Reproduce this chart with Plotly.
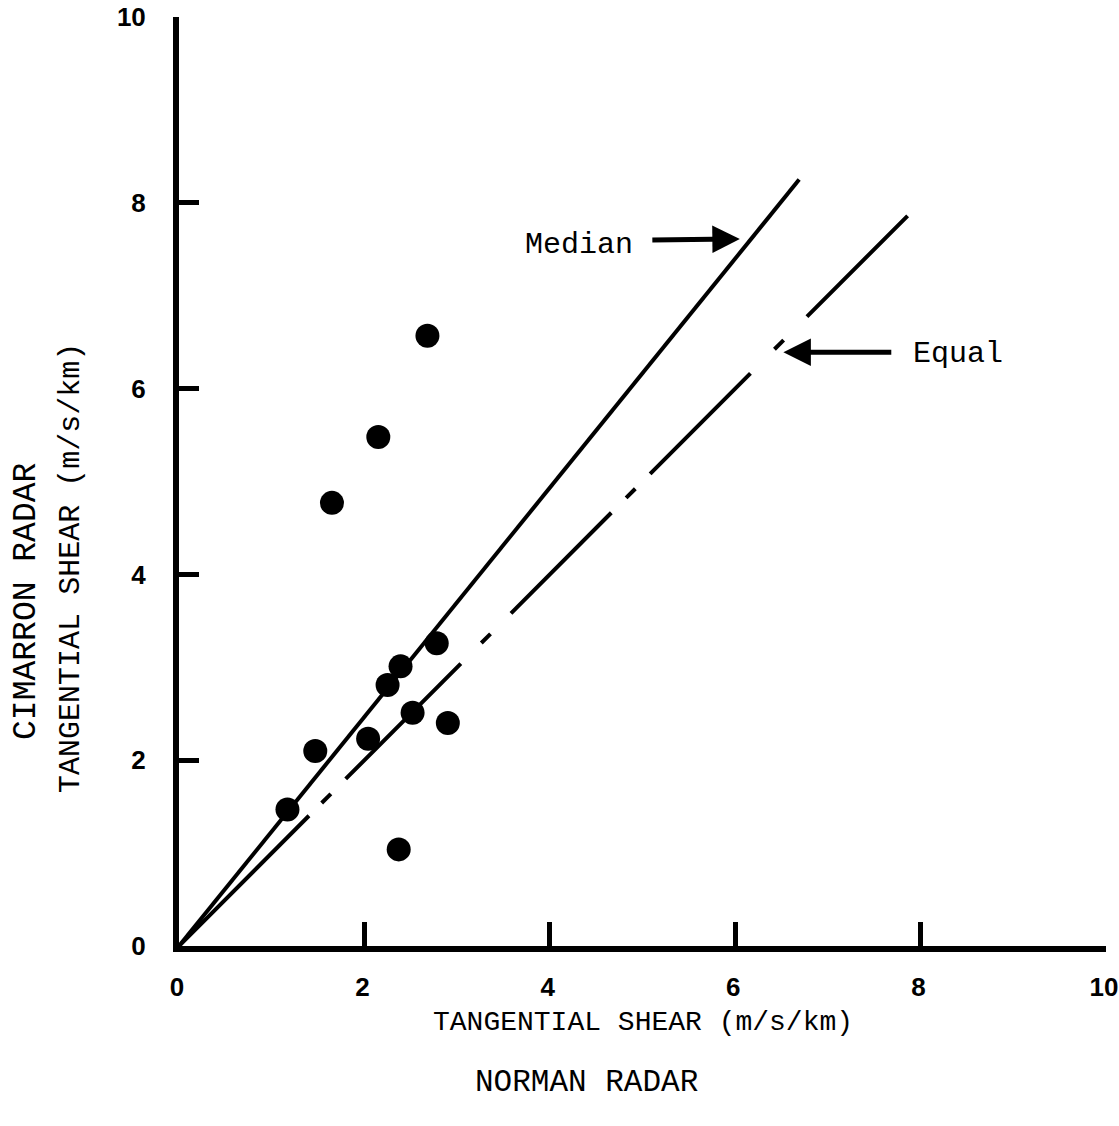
import plotly.graph_objects as go

norman = [1.17, 1.47, 1.65, 2.15, 2.68, 2.04, 2.25, 2.39, 2.52, 2.78, 2.90, 2.37]
cimarron = [1.47, 2.10, 4.77, 5.48, 6.57, 2.23, 2.81, 3.01, 2.51, 3.26, 2.40, 1.04]

median_x = [0, 6.69]
median_y = [0, 8.25]
equal_x = [0, 7.86]
equal_y = [0, 7.86]

tick_vals = [0, 2, 4, 6, 8, 10]

mono = "Liberation Mono"
ink = "black"

fig = go.Figure()

fig.add_trace(go.Scatter(x=median_x, y=median_y, mode="lines",
                         line=dict(color=ink, width=4), showlegend=False))
fig.add_trace(go.Scatter(x=equal_x, y=equal_y, mode="lines",
                         line=dict(color=ink, width=4,
                                   dash="184px,18px,13px,21px,163px,29px,13px,29px,142px,"
                                        "21px,13px,21px,142px,34px,13px,33px,160px"),
                         showlegend=False))
fig.add_trace(go.Scatter(x=norman, y=cimarron, mode="markers",
                         marker=dict(color=ink, size=24), showlegend=False))

# labels with arrows
fig.add_annotation(x=6.05, y=7.61, ax=5.09, ay=7.60, axref="x", ayref="y",
                   text="", showarrow=True, arrowhead=2, arrowsize=1.1,
                   arrowwidth=5, arrowcolor=ink)
fig.add_annotation(x=4.31, y=7.55, text="Median", showarrow=False,
                   font=dict(family=mono, size=30, color=ink))
fig.add_annotation(x=6.52, y=6.39, ax=7.70, ay=6.39, axref="x", ayref="y",
                   text="", showarrow=True, arrowhead=2, arrowsize=1.1,
                   arrowwidth=5, arrowcolor=ink)
fig.add_annotation(x=8.40, y=6.37, text="Equal", showarrow=False,
                   font=dict(family=mono, size=30, color=ink))

# axis titles
fig.add_annotation(xref="paper", yref="paper", x=0.5005, y=-0.0825, yanchor="middle",
                   text="TANGENTIAL SHEAR (m/s/km)", showarrow=False,
                   font=dict(family=mono, size=28, color=ink))
fig.add_annotation(xref="paper", yref="paper", x=0.4401, y=-0.1464, yanchor="middle",
                   text="NORMAN RADAR", showarrow=False,
                   font=dict(family=mono, size=31, color=ink))
fig.add_annotation(xref="paper", yref="paper", x=-0.164, y=0.3714, xanchor="center",
                   yanchor="middle", text="CIMARRON RADAR", textangle=-90, showarrow=False,
                   font=dict(family=mono, size=33, color=ink))
fig.add_annotation(xref="paper", yref="paper", x=-0.1165, y=0.407, xanchor="center",
                   yanchor="middle", text="TANGENTIAL SHEAR (m/s/km)", textangle=-90,
                   showarrow=False, font=dict(family=mono, size=30, color=ink))

axis_style = dict(range=[0, 10], tickvals=tick_vals, showgrid=False, zeroline=False,
                  showline=True, linewidth=6, linecolor=ink, ticks="inside",
                  tickwidth=5, tickcolor=ink, automargin=False,
                  ticklabeloverflow="allow",
                  tickfont=dict(family="Liberation Sans", size=26, color=ink, weight="bold"))

fig.update_xaxes(**axis_style, ticklen=24, ticklabelstandoff=13, ticklabelshift=-2)
fig.update_yaxes(**axis_style, ticklen=20, ticklabelstandoff=22)

fig.update_layout(width=1119, height=1126, plot_bgcolor="white", paper_bgcolor="white",
                  margin=dict(l=179, r=13, t=17, b=180))

# drop the default page margin so the figure fills the window exactly
fig.write_html("out.html", config={"displayModeBar": False},
               post_script="document.body.style.margin = '0';")
